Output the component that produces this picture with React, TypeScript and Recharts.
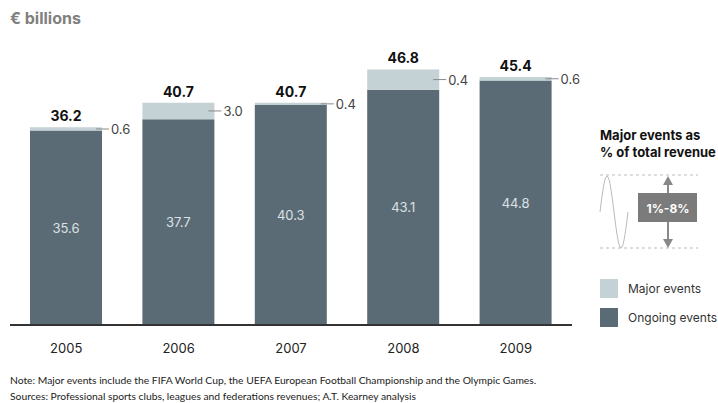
import { BarChart, Bar, XAxis, YAxis, LabelList } from 'recharts';

const years = ['2005', '2006', '2007', '2008', '2009'];
const ongoing = [35.6, 37.7, 40.3, 43.1, 44.8];
const major = [0.6, 3.0, 0.4, 3.7, 0.6];
const totals = ['36.2', '40.7', '40.7', '46.8', '45.4'];
const majorLabels = ['0.6', '3.0', '0.4', '0.4', '0.6'];

const DARK = '#5b6b75';
const LIGHT = '#c4d2d5';
const FONT = 'Inter, "Noto Sans", sans-serif';

const data = years.map((year, i) => ({
  year,
  ongoing: ongoing[i],
  major: major[i],
  total: totals[i],
  majorLabel: majorLabels[i]
}));

function YearTick({ x, y, payload }: any) {
  return (
    <text x={x} y={y + 20} textAnchor="middle" fontSize={13} fill="#222" fontFamily={FONT}>
      {payload.value}
    </text>
  );
}

function InsideLabel({ x, y, width, height, value }: any) {
  return (
    <text
      x={x + width / 2}
      y={y + height / 2}
      textAnchor="middle"
      dominantBaseline="central"
      fontSize={13}
      fill="#dbe1e4"
      fontFamily={FONT}
    >
      {value}
    </text>
  );
}

function MajorLabel({ x, y, width, height, value }: any) {
  const cy = y + height / 2;
  return (
    <g>
      <line x1={x + width - 6} x2={x + width + 7} y1={cy} y2={cy} stroke="#8a8a8a" strokeWidth={1} />
      <text x={x + width + 9} y={cy} dominantBaseline="central" fontSize={13} fill="#444" fontFamily={FONT}>
        {value}
      </text>
    </g>
  );
}

function TotalLabel({ x, y, width, value }: any) {
  return (
    <text x={x + width / 2} y={y - 6} textAnchor="middle" fontSize={14} fontWeight={700} fill="#111" fontFamily={FONT}>
      {value}
    </text>
  );
}

const legendItems = [
  { label: 'Major events', color: LIGHT },
  { label: 'Ongoing events', color: DARK }
];

export default function App() {
  // one period of the sine doodle next to the range arrow
  const wave: string[] = [];
  for (let k = 0; k <= 28; k++) {
    const px = 600 + k;
    const py = 212 - 36 * Math.sin((2 * Math.PI * k) / 28);
    wave.push(`${k === 0 ? 'M' : 'L'}${px},${py.toFixed(1)}`);
  }

  return (
    <div style={{ position: 'absolute', left: 0, top: 0, width: 718, height: 403, background: '#fff', fontFamily: FONT }}>
      <div style={{ position: 'absolute', left: 10, top: 8, fontSize: 16, fontWeight: 700, color: '#808080' }}>
        € billions
      </div>

      <BarChart width={718} height={403} data={data} margin={{ top: 52, right: 146, left: 10, bottom: 0 }}>
        <XAxis
          dataKey="year"
          axisLine={{ stroke: '#333', strokeWidth: 2 }}
          tickLine={false}
          tick={<YearTick />}
          interval={0}
          height={78}
        />
        <YAxis hide domain={[0, 50]} />
        <Bar dataKey="ongoing" stackId="a" fill={DARK} barSize={72} isAnimationActive={false}>
          <LabelList dataKey="ongoing" content={<InsideLabel />} />
        </Bar>
        <Bar dataKey="major" stackId="a" fill={LIGHT} barSize={72} isAnimationActive={false}>
          <LabelList dataKey="majorLabel" content={<MajorLabel />} />
          <LabelList dataKey="total" content={<TotalLabel />} />
        </Bar>
      </BarChart>

      <svg width={718} height={403} style={{ position: 'absolute', left: 0, top: 0, pointerEvents: 'none' }}>
        <text x={600} y={140} fontSize={13} fontWeight={700} fill="#111" fontFamily={FONT}>Major events as</text>
        <text x={600} y={157} fontSize={13} fontWeight={700} fill="#111" fontFamily={FONT}>% of total revenue</text>
        <line x1={600} x2={698} y1={175} y2={175} stroke="#bbb" strokeDasharray="3 3" />
        <line x1={600} x2={698} y1={248} y2={248} stroke="#bbb" strokeDasharray="3 3" />
        <path d={wave.join(' ')} fill="none" stroke="#bbb" strokeWidth={1} />
        <line x1={668} x2={668} y1={182} y2={242} stroke="#888" strokeWidth={2} />
        <polygon points="668,176 663,185 673,185" fill="#888" />
        <polygon points="668,248 663,239 673,239" fill="#888" />
        <rect x={638} y={193} width={59} height={29} fill="#7b7b7b" />
        <text x={668} y={208} textAnchor="middle" dominantBaseline="central" fontSize={12} fontWeight={700} fill="#fff" fontFamily={FONT}>
          1%-8%
        </text>
      </svg>

      <div style={{ position: 'absolute', left: 600, top: 279, fontSize: 12, color: '#333' }}>
        {legendItems.map(it => (
          <div key={it.label} style={{ display: 'flex', alignItems: 'center', height: 19, marginBottom: 10 }}>
            <div style={{ width: 18, height: 19, background: it.color, marginRight: 10 }} />
            {it.label}
          </div>
        ))}
      </div>

      <div style={{ position: 'absolute', left: 10, top: 372, fontSize: 10.3, color: '#222', lineHeight: '16px', fontFamily: 'Lato, sans-serif' }}>
        <div>Note: Major events include the FIFA World Cup, the UEFA European Football Championship and the Olympic Games.</div>
        <div>Sources: Professional sports clubs, leagues and federations revenues; A.T. Kearney analysis</div>
      </div>
    </div>
  );
}
